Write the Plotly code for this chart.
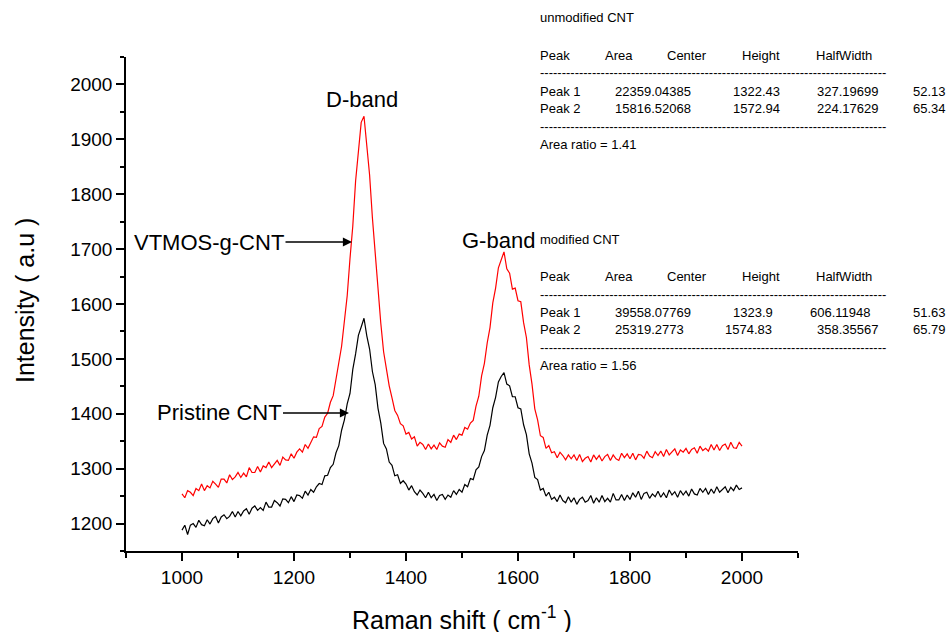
import plotly.graph_objects as go

# Raman spectra of pristine and VTMOS-grafted carbon nanotubes
raman_shift = list(range(1000, 2001, 5))

vtmos_g_cnt = [
    1254, 1247, 1260, 1257, 1251, 1264, 1260, 1272, 1260, 1269,
    1265, 1277, 1272, 1266, 1281, 1281, 1274, 1289, 1280, 1285,
    1293, 1284, 1292, 1285, 1302, 1293, 1293, 1304, 1294, 1305,
    1302, 1312, 1302, 1309, 1315, 1306, 1321, 1316, 1315, 1327,
    1319, 1330, 1336, 1330, 1344, 1337, 1348, 1358, 1357, 1373,
    1377, 1394, 1401, 1421, 1433, 1460, 1493, 1523, 1568, 1615,
    1683, 1742, 1824, 1881, 1931, 1942, 1894, 1835, 1757, 1688,
    1616, 1565, 1513, 1481, 1451, 1429, 1406, 1397, 1382, 1378,
    1363, 1366, 1354, 1358, 1341, 1348, 1344, 1335, 1345, 1336,
    1343, 1335, 1347, 1341, 1339, 1353, 1348, 1361, 1353, 1363,
    1361, 1375, 1372, 1383, 1388, 1414, 1432, 1469, 1492, 1529,
    1557, 1602, 1629, 1666, 1680, 1695, 1664, 1656, 1627, 1629,
    1606, 1604, 1566, 1539, 1489, 1454, 1409, 1389, 1360, 1357,
    1337, 1342, 1329, 1331, 1320, 1330, 1324, 1316, 1325, 1318,
    1325, 1315, 1326, 1313, 1319, 1322, 1312, 1325, 1317, 1324,
    1314, 1322, 1326, 1315, 1325, 1318, 1315, 1328, 1320, 1327,
    1318, 1328, 1316, 1326, 1325, 1319, 1332, 1323, 1320, 1331,
    1324, 1332, 1322, 1335, 1325, 1330, 1336, 1324, 1334, 1330,
    1337, 1327, 1335, 1338, 1328, 1341, 1333, 1337, 1332, 1344,
    1334, 1344, 1333, 1342, 1345, 1335, 1348, 1338, 1337, 1348,
    1341,
]

pristine_cnt = [
    1188, 1197, 1180, 1197, 1200, 1193, 1206, 1198, 1196, 1207,
    1199, 1209, 1213, 1201, 1212, 1216, 1209, 1213, 1222, 1212,
    1222, 1214, 1223, 1227, 1217, 1228, 1232, 1224, 1229, 1224,
    1239, 1230, 1230, 1242, 1238, 1232, 1245, 1244, 1238, 1249,
    1240, 1252, 1251, 1246, 1259, 1252, 1262, 1257, 1267, 1273,
    1271, 1287, 1288, 1302, 1308, 1329, 1342, 1370, 1389, 1418,
    1437, 1481, 1509, 1543, 1558, 1574, 1542, 1518, 1477, 1453,
    1410, 1383, 1346, 1336, 1312, 1306, 1287, 1289, 1273, 1278,
    1272, 1261, 1269, 1258, 1252, 1261, 1255, 1247, 1257, 1247,
    1253, 1242, 1251, 1253, 1244, 1252, 1248, 1260, 1253, 1262,
    1257, 1271, 1267, 1282, 1280, 1298, 1303, 1322, 1333, 1361,
    1379, 1411, 1430, 1458, 1468, 1475, 1454, 1451, 1431, 1431,
    1411, 1409, 1380, 1362, 1327, 1310, 1284, 1280, 1261, 1264,
    1250, 1257, 1244, 1248, 1240, 1252, 1242, 1238, 1249, 1239,
    1247, 1235, 1244, 1248, 1239, 1242, 1251, 1237, 1247, 1239,
    1251, 1240, 1246, 1239, 1255, 1243, 1243, 1253, 1242, 1252,
    1244, 1256, 1248, 1259, 1244, 1255, 1257, 1246, 1254, 1249,
    1259, 1248, 1256, 1247, 1261, 1252, 1258, 1248, 1260, 1252,
    1259, 1250, 1263, 1254, 1252, 1264, 1257, 1264, 1253, 1263,
    1255, 1267, 1257, 1263, 1267, 1256, 1266, 1260, 1270, 1262,
    1265,
]

x_ticks = [1000, 1200, 1400, 1600, 1800, 2000]
y_ticks = [1200, 1300, 1400, 1500, 1600, 1700, 1800, 1900, 2000]

# Peak-fit summary tables
fit_header = ["Peak", "Area", "Center", "Height", "HalfWidth"]
unmod_rows = [
    ["Peak 1", "22359.04385", "1322.43", "327.19699", "52.13"],
    ["Peak 2", "15816.52068", "1572.94", "224.17629", "65.34"],
]
unmod_ratio = "Area ratio = 1.41"
mod_rows = [
    ["Peak 1", "39558.07769", "1323.9", "606.11948", "51.63"],
    ["Peak 2", "25319.2773", "1574.83", "358.35567", "65.79"],
]
mod_ratio = "Area ratio = 1.56"

FONT = "Liberation Sans, Arial, sans-serif"
W, H = 952, 632
L, R, T, B = 126, 154, 57, 81
PW, PH = W - L - R, H - T - B


def paper(px, py):
    return (px - L) / PW, (H - B - py) / PH


fig = go.Figure()
fig.add_trace(go.Scatter(x=raman_shift, y=vtmos_g_cnt, mode="lines",
                         line=dict(color="#ff0000", width=1.2),
                         name="VTMOS-g-CNT", showlegend=False))
fig.add_trace(go.Scatter(x=raman_shift, y=pristine_cnt, mode="lines",
                         line=dict(color="#000000", width=1.2),
                         name="Pristine CNT", showlegend=False))

annotations = []


def text_at(px, py, s, size=13, anchor="left", **kw):
    xp, yp = paper(px, py)
    annotations.append(dict(x=xp, y=yp, xref="paper", yref="paper", text=s,
                            showarrow=False, xanchor=anchor, yanchor="middle",
                            font=dict(family=FONT, size=size, color="black"), **kw))


# axis titles
text_at(462, 618, "Raman shift ( cm<sup>-1</sup> )", size=25, anchor="center")
text_at(25, 301, "Intensity ( a.u )", size=25, anchor="center", textangle=-90)

# band labels
text_at(362, 99, "D-band", size=22, anchor="center")
text_at(498, 241, "G-band", size=22, anchor="center")

# sample labels with arrows pointing at their curves
for label, head_x, head_y, center_x in [("VTMOS-g-CNT", 352, 242, 209),
                                        ("Pristine CNT", 349, 413, 219)]:
    xp, yp = paper(head_x, head_y)
    annotations.append(dict(x=xp, y=yp, xref="paper", yref="paper", text=label,
                            font=dict(family=FONT, size=22, color="black"),
                            showarrow=True, arrowhead=2, arrowsize=1.4,
                            arrowwidth=1.3, arrowcolor="black", standoff=0,
                            ax=center_x - head_x, ay=0))

dashes = "-" * 80
cols = [538, 603, 665, 740, 814]
row_cols = [538, 613, 731, 815, 911]


def table(y0, title, rows, ratio, row_x):
    text_at(538, y0, title)
    for cx, h in zip(cols, fit_header):
        text_at(cx, y0 + 37, h)
    text_at(538, y0 + 55, dashes)
    for i, row in enumerate(rows):
        for cx, v in zip(row_x[i], row):
            text_at(cx, y0 + 73 + 17.5 * i, v)
    text_at(538, y0 + 108, dashes)
    text_at(538, y0 + 126, ratio)


table(18, "unmodified CNT", unmod_rows, unmod_ratio, [row_cols, row_cols])
table(239, "modified CNT", mod_rows, mod_ratio,
      [[538, 613, 731, 808, 911], [538, 613, 723, 815, 911]])

axis_common = dict(showline=True, linecolor="black", linewidth=1.5,
                   ticks="outside", tickcolor="black", tickwidth=1.5,
                   showgrid=False, zeroline=False,
                   tickfont=dict(family=FONT, size=19, color="black"))

fig.update_xaxes(range=[900, 2100], tickvals=x_ticks, ticklen=8,
                 minor=dict(dtick=100, tick0=900, ticks="outside", ticklen=5,
                            tickcolor="black", tickwidth=1.5, showgrid=False),
                 **axis_common)
fig.update_yaxes(range=[1150, 2050], tickvals=y_ticks, ticklen=8,
                 minor=dict(dtick=50, tick0=1150, ticks="outside", ticklen=4,
                            tickcolor="black", tickwidth=1.5, showgrid=False),
                 **axis_common)

fig.update_layout(width=W, height=H, margin=dict(l=L, r=R, t=T, b=B),
                  plot_bgcolor="white", paper_bgcolor="white",
                  annotations=annotations, showlegend=False)

fig.write_html("out.html")
